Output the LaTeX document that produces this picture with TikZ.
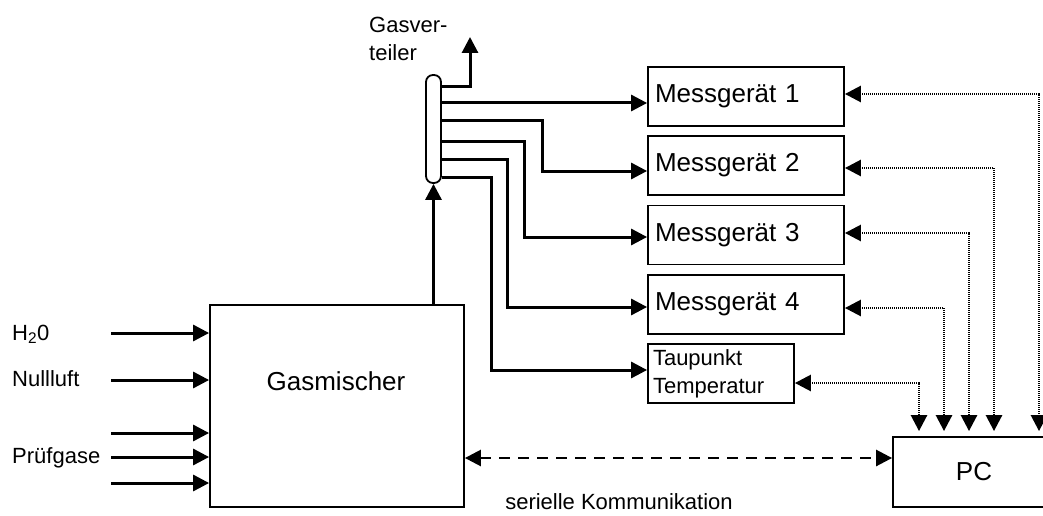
\documentclass[tikz,border=0pt]{standalone}
\usepackage{fontspec}
\setmainfont{Liberation Sans}
\usetikzlibrary{arrows.meta}
\begin{document}
\begin{tikzpicture}[x=1pt,y=-1pt,
  box/.style={draw,line width=1.8pt,inner sep=0pt},
  tip/.tip={Triangle[length=16pt,width=16pt]},
  flow/.style={line width=3pt,-tip},
  bus/.style={line width=2.6pt,dash pattern=on 1.2pt off 0.8pt,tip-tip},
  ser/.style={line width=2.6pt,dash pattern=on 11pt off 8pt,tip-tip},
  big/.style={font=\fontsize{26}{30}\selectfont},
  small/.style={font=\fontsize{22}{28}\selectfont}]
\useasboundingbox (0,0) rectangle (1043,516);
\clip (0,0) rectangle (1043,516);

\node[box,minimum width=254,minimum height=202] (mix) at (337,406) {};
\node[big,anchor=base] (mixlabel) at (336,390) {Gasmischer};
\node[box,rounded corners=7pt,minimum width=15,minimum height=108] (vt) at (433.5,129) {};
\node[small,anchor=north west,inner sep=0pt,align=left] (vtlabel) at (369,17) {Gasver-\\teiler};

\foreach \i/\y in {1/96.5,2/165.5,3/235,4/304.5}
  \node[box,big,inner sep=7pt,text width=182,align=left,minimum height=59] (m\i) at (746,\y) {Messgerät \i};
\node[box,small,inner sep=5pt,text width=136,align=left,minimum height=59] (tp) at (721,373.5) {Taupunkt\\Temperatur};
\node[box,big,minimum width=162,minimum height=70] (pc) at (974,472) {PC};

\node[small,anchor=base west,inner sep=0pt] (h2o) at (12,340) {H\textsubscript{2}0};
\node[small,anchor=base west,inner sep=0pt] (luft) at (12,386) {Nullluft};
\node[small,anchor=base west,inner sep=0pt] (pruef) at (12,463) {Prüfgase};

\foreach \y [count=\i] in {333,380,433,457,483} {
  \coordinate (in\i) at (111,\y);
  \draw[flow] (in\i) -- (in\i -| mix.west);
}

\draw[flow] (mix.north -| vt.south) -- (vt.south);
\coordinate (ex) at (470,37);
\draw[flow] (vt.east |- 0,87) -| (ex);

\draw[flow] (vt.east |- 0,103) -- (m1.west |- 0,103);
\draw[flow] (vt.east |- 0,121) -| (542,171) -- (m2.west |- 0,171);
\draw[flow] (vt.east |- 0,141) -| (524,237) -- (m3.west |- 0,237);
\draw[flow] (vt.east |- 0,159) -| (507,307) -- (m4.west |- 0,307);
\draw[flow] (vt.east |- 0,177) -| (491,370) -- (tp.west |- 0,370);

\coordinate (pctop) at ([yshift=5pt]pc.north);
\foreach \n/\y/\x in {m1/94/1039,m2/168/994,m3/233/969,m4/308/944,tp/383/919}
  \draw[bus] (\n.east |- 0,\y) -| (pctop -| \x,0);

\draw[ser] (mix.east |- 0,458) -- (pc.west |- 0,458);
\node[small,anchor=base] (serlabel) at (619,509) {serielle Kommunikation};
\end{tikzpicture}
\end{document}
